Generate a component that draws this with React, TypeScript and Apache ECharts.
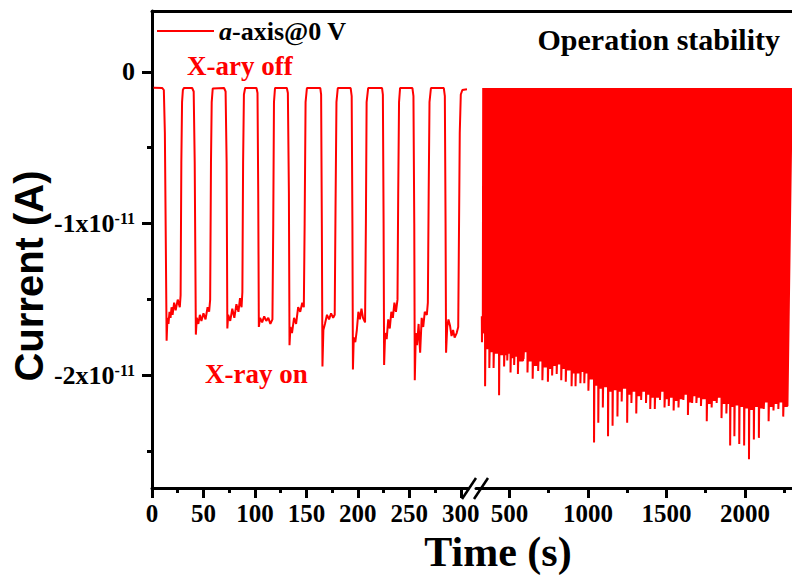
import React, { useEffect, useRef } from 'react';
import * as echarts from 'echarts';

// Units: time in s, current in 1e-11 A
const yTickValues = [0, -1, -2];
const yMinorTickValues = [-0.5, -1.5, -2.5];
const xLeftTickValues = [0, 50, 100, 150, 200, 250, 300];
const xLeftMinorValues = [25, 75, 125, 175, 225, 275];
const xRightTickValues = [500, 1000, 1500, 2000];
const xRightMinorValues = [750, 1250, 1750, 2250];

const seriesName = 'a-axis@0 V';
const offLevel = -0.107;

// Segment before the axis break (0–307 s), read point by point
const leftSegment: [number, number][] = [
  [1.5, -0.105], [10, -0.107], [11.5, -0.12], [12.5, -0.4], [13.5, -1.2], [14.2, -1.77], [15, -1.62], [16, -1.66], [17, -1.58], [18, -1.62], [19, -1.55], [20, -1.6], [21.5, -1.52], [23, -1.57], [25, -1.5], [27, -1.55], [27.8, -1.47], [28.5, -0.6], [29.2, -0.2], [30, -0.12], [31, -0.107],
  [39, -0.107], [40.5, -0.13], [41.5, -0.6], [42.6, -1.73], [43.5, -1.62], [45, -1.66], [46.5, -1.6], [48, -1.64], [50, -1.59], [52, -1.63], [54, -1.55], [55.5, -1.58], [56.5, -1.5], [57.3, -0.6], [58, -0.2], [59, -0.11],
  [70, -0.107], [71.5, -0.13], [72.5, -0.6], [73.2, -1.69], [74, -1.6], [76, -1.64], [78, -1.56], [80, -1.62], [82, -1.53], [84, -1.58], [85.5, -1.49], [87, -1.55], [87.8, -1.45], [88.5, -0.6], [89.3, -0.15], [90.5, -0.107],
  [101.5, -0.107], [102.5, -0.14], [103.2, -0.8], [103.8, -1.68], [105, -1.62], [107, -1.65], [109, -1.61], [111, -1.64], [113, -1.62], [115, -1.66], [117, -1.63], [117.8, -1.0], [118.5, -0.2], [119.5, -0.107],
  [131, -0.107], [132, -0.14], [133, -0.8], [133.6, -1.8], [134.5, -1.68], [136, -1.72], [138, -1.62], [140, -1.66], [142, -1.55], [144, -1.58], [146, -1.52], [147.5, -1.55], [148.3, -1.0], [149.2, -0.2], [150.5, -0.107],
  [163.5, -0.107], [164.3, -0.15], [165, -1.0], [165.6, -1.94], [166.5, -1.7], [168, -1.66], [170, -1.6], [172, -1.63], [174, -1.59], [176, -1.62], [177.5, -1.6], [178.3, -0.9], [179.2, -0.2], [180.5, -0.107],
  [193, -0.107], [194, -0.16], [194.7, -1.0], [195.2, -1.96], [196, -1.75], [197.5, -1.78], [199, -1.7], [200.5, -1.58], [202, -1.63], [203.5, -1.56], [205, -1.62], [207, -1.65], [207.8, -1.0], [208.5, -0.2], [210, -0.107],
  [223.5, -0.107], [224.3, -0.15], [225, -1.0], [225.5, -1.93], [226.5, -1.72], [228, -1.76], [229.5, -1.63], [231, -1.69], [232.5, -1.58], [234, -1.62], [235.5, -1.52], [237, -1.58], [238.5, -1.5], [239.2, -0.8], [240, -0.2], [241, -0.107],
  [253, -0.107], [254, -0.16], [254.8, -1.0], [255.3, -2.03], [256.3, -1.72], [257.5, -1.8], [259, -1.66], [260.5, -1.85], [262, -1.62], [263.5, -1.68], [265, -1.58], [267, -1.6], [268, -1.52], [268.8, -0.8], [269.6, -0.2], [271, -0.107],
  [283.5, -0.107], [284.5, -0.16], [285.2, -1.0], [285.7, -1.85], [286.8, -1.68], [288, -1.63], [289.5, -1.67], [291, -1.74], [292.5, -1.7], [294, -1.75], [296, -1.72], [297.5, -1.68], [298.3, -1.0], [299, -0.4], [300, -0.15], [301.5, -0.12], [306, -0.115],
];

// Segment after the break: start piece, then one X-ray pulse per listed time
const rightStart: [number, number][] = [[324, -1.61], [325, -1.78], [326.5, -1.7], [342, -1.72]];
const rightTipTimes = [
  345, 372, 399, 434, 466, 486, 507, 530, 554, 590,
  615, 648, 683, 710, 745, 772, 801, 830, 859, 896,
  921, 952, 977, 1003, 1039, 1066, 1095, 1128, 1157, 1188,
  1215, 1250, 1277, 1308, 1339, 1370, 1397, 1426, 1459, 1488,
  1515, 1546, 1577, 1608, 1637, 1664, 1691, 1720, 1757, 1788,
  1820, 1851, 1882, 1906, 1933, 1964, 1995, 2026, 2057, 2089,
  2120, 2151, 2182, 2213, 2244,
];
const rightTipValues = [
  -2.07, -1.95, -1.95, -2.13, -1.94, -1.9, -1.98, -1.93, -1.99, -1.89,
  -1.98, -2.02, -1.97, -2.03, -2.04, -2.0, -1.99, -2.03, -2.04, -2.07,
  -2.07, -2.05, -2.05, -2.1, -2.44, -2.31, -2.21, -2.4, -2.33, -2.27,
  -2.17, -2.31, -2.18, -2.25, -2.16, -2.18, -2.22, -2.22, -2.16, -2.21,
  -2.2, -2.23, -2.21, -2.16, -2.26, -2.18, -2.18, -2.2, -2.3, -2.21,
  -2.18, -2.28, -2.25, -2.46, -2.4, -2.45, -2.46, -2.55, -2.42, -2.41,
  -2.22, -2.3, -2.23, -2.22, -2.27,
];
const rightOnLevels = [
  -1.82, -1.84, -1.85, -1.86, -1.86, -1.85, -1.88, -1.87, -1.9, -1.84,
  -1.9, -1.93, -1.9, -1.94, -1.95, -1.93, -1.92, -1.95, -1.96, -1.98,
  -1.98, -1.97, -1.98, -2.02, -2.06, -2.08, -2.07, -2.1, -2.09, -2.1,
  -2.08, -2.12, -2.1, -2.13, -2.1, -2.12, -2.14, -2.14, -2.1, -2.15,
  -2.14, -2.16, -2.15, -2.12, -2.17, -2.13, -2.14, -2.15, -2.18, -2.16,
  -2.14, -2.18, -2.18, -2.2, -2.19, -2.2, -2.21, -2.22, -2.2, -2.21,
  -2.17, -2.2, -2.18, -2.17, -2.2,
];
const rightEndTime = 2300;

const SERIF = '"Liberation Serif", "Times New Roman", serif';
const SANS = '"Liberation Sans", Arial, sans-serif';
const RED = '#ff0000';

export default function App() {
  const ref = useRef<HTMLDivElement>(null);

  useEffect(() => {
    document.body.style.margin = '0';
    const chart = echarts.init(ref.current!, null, { renderer: 'svg' });

    // Each pulse: brief off blip, fall to its tip, hold its on-level until the next pulse
    const rightSegment: [number, number][] = [...rightStart];
    rightTipTimes.forEach((t, i) => {
      const next = i + 1 < rightTipTimes.length ? rightTipTimes[i + 1] : t + 30;
      rightSegment.push(
        [t - 2, offLevel],
        [t - 1, offLevel],
        [t, rightTipValues[i]],
        [t + 2, rightOnLevels[i]],
        [next - 3, rightOnLevels[i]]
      );
    });
    rightSegment.push([rightEndTime - 1, offLevel], [rightEndTime, offLevel]);

    const yMin = -2.74;
    const yMax = 0.4;
    const lineStyleAxis = { color: '#000', width: 3 };
    const labelFont = { fontFamily: SERIF, fontWeight: 'bold' as const, fontSize: 25, color: '#000' };

    const majorX = (min: number, max: number, grid: number, vals: number[]) => ({
      type: 'value', gridIndex: grid, position: 'bottom', min, max,
      axisLine: { show: true, onZero: false, lineStyle: lineStyleAxis },
      axisTick: { show: true, inside: false, length: 10, lineStyle: lineStyleAxis, customValues: vals },
      axisLabel: { show: true, margin: 13, customValues: vals, formatter: (v: number) => String(v), ...labelFont },
      splitLine: { show: false },
    });
    const minorX = (min: number, max: number, grid: number, vals: number[]) => ({
      type: 'value', gridIndex: grid, position: 'bottom', min, max,
      axisLine: { show: false, onZero: false },
      axisTick: { show: true, inside: false, length: 5, lineStyle: lineStyleAxis, customValues: vals },
      axisLabel: { show: false },
      splitLine: { show: false },
    });

    const option: any = {
      animation: false,
      backgroundColor: '#fff',
      grid: [
        { left: 152, width: 316, top: 11, bottom: 94 },
        { left: 476, right: -8, top: 11, bottom: 94 },
        { left: 152, right: -8, top: 11, bottom: 94 },
      ],
      xAxis: [
        majorX(0, 307, 0, xLeftTickValues),
        minorX(0, 307, 0, xLeftMinorValues),
        majorX(287, 2300, 1, xRightTickValues),
        minorX(287, 2300, 1, xRightMinorValues),
        {
          type: 'value', gridIndex: 2, position: 'top', min: 0, max: 1,
          axisLine: { show: true, onZero: false, lineStyle: lineStyleAxis },
          axisTick: { show: false }, axisLabel: { show: false }, splitLine: { show: false },
        },
      ],
      yAxis: [
        {
          type: 'value', gridIndex: 0, position: 'left', min: yMin, max: yMax,
          axisLine: { show: true, onZero: false, lineStyle: lineStyleAxis },
          axisTick: { show: true, inside: false, length: 10, lineStyle: lineStyleAxis, customValues: yTickValues },
          axisLabel: {
            show: true, margin: 17, customValues: yTickValues, ...labelFont,
            formatter: (v: number) => (v === 0 ? '{b|0}' : `{b|${v}x10}{s|-11}`),
            rich: {
              b: { ...labelFont, fontSize: 26, lineHeight: 26 },
              s: { fontFamily: SERIF, fontWeight: 'bold', fontSize: 16, color: '#000', verticalAlign: 'top', lineHeight: 16 },
            },
          },
          splitLine: { show: false },
        },
        {
          type: 'value', gridIndex: 0, position: 'left', min: yMin, max: yMax,
          axisLine: { show: false, onZero: false },
          axisTick: { show: true, inside: false, length: 5, lineStyle: lineStyleAxis, customValues: yMinorTickValues },
          axisLabel: { show: false }, splitLine: { show: false },
        },
        { type: 'value', gridIndex: 1, min: yMin, max: yMax, show: false },
        { type: 'value', gridIndex: 2, min: 0, max: 1, show: false },
      ],
      legend: {
        show: true, left: 152, top: 13, icon: 'rect', itemWidth: 57, itemHeight: 2,
        selectedMode: false, data: [seriesName],
        formatter: () => '{i|a}{b|-axis@0 V}',
        textStyle: {
          fontFamily: SERIF, fontWeight: 'bold', fontSize: 26, color: '#000',
          rich: {
            i: { fontFamily: SERIF, fontWeight: 'bold', fontStyle: 'italic', fontSize: 26, color: '#000' },
            b: { fontFamily: SERIF, fontWeight: 'bold', fontSize: 26, color: '#000' },
          },
        },
      },
      series: [
        {
          name: seriesName, type: 'line', xAxisIndex: 0, yAxisIndex: 0, data: leftSegment,
          showSymbol: false, symbol: 'none', color: RED, lineStyle: { color: RED, width: 2 }, clip: true,
        },
        {
          name: seriesName, type: 'line', xAxisIndex: 2, yAxisIndex: 2, data: rightSegment,
          showSymbol: false, symbol: 'none', color: RED, lineStyle: { color: RED, width: 2 }, clip: true,
          areaStyle: { color: RED, opacity: 1, origin: offLevel },
        },
      ],
      graphic: [
        { type: 'text', x: 187, y: 66, style: { text: 'X-ary off', fill: RED, font: `bold 27px ${SERIF}`, align: 'left', verticalAlign: 'middle' } },
        { type: 'text', x: 205, y: 374, style: { text: 'X-ray on', fill: RED, font: `bold 27px ${SERIF}`, align: 'left', verticalAlign: 'middle' } },
        { type: 'text', x: 780, y: 39, style: { text: 'Operation stability', fill: '#000', font: `bold 30px ${SERIF}`, align: 'right', verticalAlign: 'middle' } },
        { type: 'text', x: 498, y: 552, style: { text: 'Time (s)', fill: '#000', font: `bold 42px ${SERIF}`, align: 'center', verticalAlign: 'middle' } },
        { type: 'text', x: 29, y: 276, rotation: Math.PI / 2, style: { text: 'Current (A)', fill: '#000', font: `bold 40px ${SANS}`, align: 'center', verticalAlign: 'middle' } },
        { type: 'line', shape: { x1: 462, y1: 499, x2: 476, y2: 478 }, style: { stroke: '#000', lineWidth: 2.5 } },
        { type: 'line', shape: { x1: 474, y1: 499, x2: 488, y2: 478 }, style: { stroke: '#000', lineWidth: 2.5 } },
      ],
    };

    chart.setOption(option);
    return () => chart.dispose();
  }, []);

  return <div ref={ref} style={{ width: 792, height: 582, background: '#fff' }} />;
}
